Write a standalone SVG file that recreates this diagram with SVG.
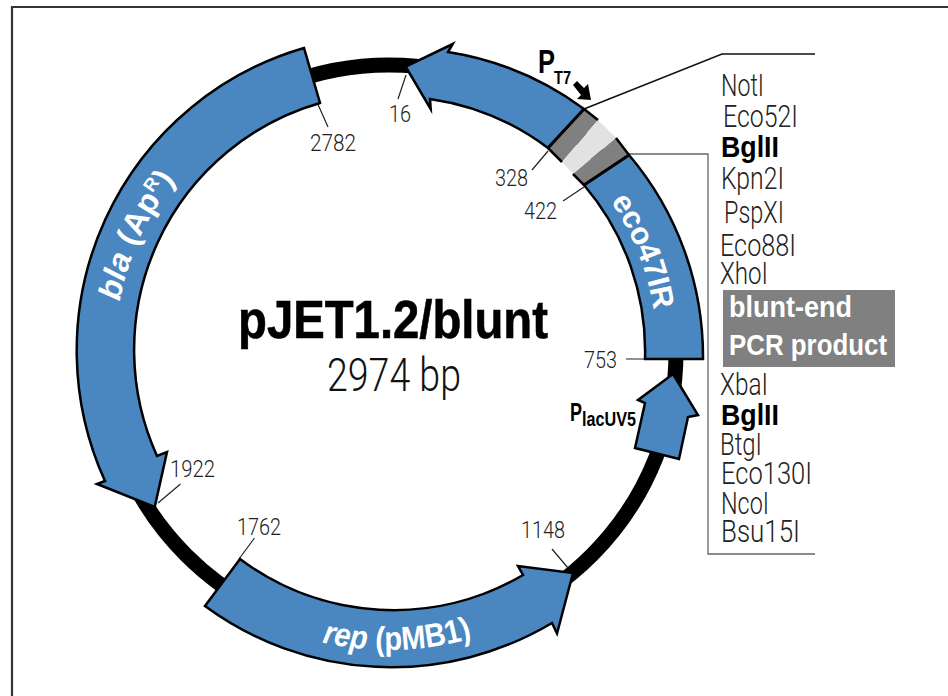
<svg xmlns="http://www.w3.org/2000/svg" width="948" height="696" viewBox="0 0 948 696">
<style>
.n{font-family:Roboto,"Liberation Sans",sans-serif;font-weight:300;fill:#222}
.num{font-size:24px}
.enz{font-size:31px}
.b{font-family:"Liberation Sans",Arial,sans-serif;font-weight:700;fill:#000}
.w{font-family:"Liberation Sans",Arial,sans-serif;font-weight:700;fill:#fff}
.g{fill:#4a86bf;stroke:#000;stroke-width:2.5;stroke-linejoin:miter;stroke-miterlimit:10}
.tick{fill:none;stroke:#222;stroke-width:1.2}
</style>
<defs>
<path id="pBla" d="M115,352 A274 274 0 0 1 389,78"/>
<path id="pEco" d="M389,84 A268 268 0 0 1 657,352"/>
<path id="pRep" d="M91,352 A298 298 0 0 0 687,352"/>
</defs>
<rect width="948" height="696" fill="#fff"/>
<path d="M12,696 V7 H948" fill="none" stroke="#333" stroke-width="2.2"/>
<g id="connectors">
<circle cx="389" cy="352" r="287" fill="none" stroke="#000" stroke-width="15"/>
<path d="M584,109 L722,54 H815" fill="none" stroke="#111" stroke-width="1.6"/>
<path d="M629,154 H708 V554 H815" fill="none" stroke="#666" stroke-width="1.3"/>
<path class="tick" d="M406,75 L398,99 M316,100 L328,127 M548,151 L532,170 M584,187 L563,201 M626,359 H645 M158,503 L180.5,484 M239,559 L254.5,538 M552,549 L568,568"/>
</g>
<g id="bla"><path class="g" d="M304,48 A315 315 0 0 0 105,481 L97,484 L154.7,507 L167,452 L157,456 A257 257 0 0 1 320,103 Z"/>
<text class="w" font-size="32" textLength="135" lengthAdjust="spacingAndGlyphs"><textPath href="#pBla" startOffset="27.5%" text-anchor="middle"><tspan font-style="italic">bla</tspan> (Ap<tspan font-size="18" dy="-11">R</tspan><tspan dy="11">)</tspan></textPath></text></g>
<g id="rep"><path class="g" d="M205,606 A314 314 0 0 0 552,623 L557,633.5 L573,573 L518,566 L523,575 A256 256 0 0 1 240,559 Z"/>
<text class="w" font-size="33" textLength="152" lengthAdjust="spacingAndGlyphs"><textPath href="#pRep" startOffset="50.9%" text-anchor="middle"><tspan font-style="italic">rep</tspan> (pMB1)</textPath></text></g>
<g id="eco47IR"><path class="g" d="M629,155 A312 312 0 0 1 703,359 L645,359 A256 256 0 0 0 584,185 Z"/>
<text class="w" font-size="31" textLength="118" lengthAdjust="spacingAndGlyphs"><textPath href="#pEco" startOffset="76%" text-anchor="middle">eco47IR</textPath></text></g>
<g id="T7"><path class="g" d="M405.7,66.7 L452.7,44 L448,52 A310 310 0 0 1 584,109 L548,148 A258 258 0 0 0 430,99 L430.7,109 Z"/>
<text class="b" x="538" y="73" font-size="33" textLength="17" lengthAdjust="spacingAndGlyphs">P</text>
<text class="b" x="554" y="84" font-size="19" textLength="17" lengthAdjust="spacingAndGlyphs">T7</text>
<path d="M573,85 L577,81 L584,88 L588,84 L591,100 L577,99 L581,95 Z" fill="#000"/></g>
<g id="mcs">
<path d="M584,109 A310 310 0 0 1 598,120 L562,162 L548,148 Z" fill="#808080"/>
<path d="M598,120 L616,138 L573,174 L562,162 Z" fill="#e2e2e2"/>
<path d="M616,138 L629,155 L584,185 L573,174 Z" fill="#808080"/>
<path d="M584,109 L598,120 M616,138 L629,155 M548,148 L562,162 M573,174 L584,185" fill="none" stroke="#000" stroke-width="2.5"/>
<path d="M584,109 L548,148 M629,155 L584,185" fill="none" stroke="#000" stroke-width="3"/>
</g>
<g id="PlacUV5"><path class="g" d="M673,374 L698,415 L688,417 L679,459 L635,448 L645,403 L638,400 Z"/>
<text class="b" x="570" y="421" font-size="25" textLength="12" lengthAdjust="spacingAndGlyphs">P</text>
<text class="b" x="582" y="426" font-size="20" textLength="54" lengthAdjust="spacingAndGlyphs">lacUV5</text></g>
<g id="numbers">
<text class="n num" x="389" y="122" textLength="22" lengthAdjust="spacingAndGlyphs">16</text>
<text class="n num" x="310" y="151" textLength="46" lengthAdjust="spacingAndGlyphs">2782</text>
<text class="n num" x="495" y="186" textLength="33" lengthAdjust="spacingAndGlyphs">328</text>
<text class="n num" x="524" y="219" textLength="33" lengthAdjust="spacingAndGlyphs">422</text>
<text class="n num" x="584" y="368" textLength="33" lengthAdjust="spacingAndGlyphs">753</text>
<text class="n num" x="170" y="477" textLength="45" lengthAdjust="spacingAndGlyphs">1922</text>
<text class="n num" x="237" y="535" textLength="44" lengthAdjust="spacingAndGlyphs">1762</text>
<text class="n num" x="521" y="538" textLength="44" lengthAdjust="spacingAndGlyphs">1148</text>
</g>
<g id="title">
<text class="b" x="238" y="338" font-size="54" textLength="310" lengthAdjust="spacingAndGlyphs" stroke="#000" stroke-width=".6">pJET1.2/blunt</text>
<text class="n" x="327" y="391" font-size="46" textLength="134" lengthAdjust="spacingAndGlyphs" style="fill:#111">2974 bp</text>
</g>
<g id="sites">
<text class="n enz" x="721" y="96" textLength="43" lengthAdjust="spacingAndGlyphs">NotI</text>
<text class="n enz" x="723" y="127" textLength="75" lengthAdjust="spacingAndGlyphs">Eco52I</text>
<text class="b" x="721" y="157" font-size="29" textLength="58" lengthAdjust="spacingAndGlyphs">BglII</text>
<text class="n enz" x="721" y="189" textLength="63" lengthAdjust="spacingAndGlyphs">Kpn2I</text>
<text class="n enz" x="724" y="223" textLength="60" lengthAdjust="spacingAndGlyphs">PspXI</text>
<text class="n enz" x="720" y="256" textLength="76" lengthAdjust="spacingAndGlyphs">Eco88I</text>
<text class="n enz" x="720" y="284" textLength="48" lengthAdjust="spacingAndGlyphs">XhoI</text>
<text class="n enz" x="720" y="395" textLength="48" lengthAdjust="spacingAndGlyphs">XbaI</text>
<text class="b" x="721" y="425" font-size="29" textLength="58" lengthAdjust="spacingAndGlyphs">BglII</text>
<text class="n enz" x="720" y="455" textLength="42" lengthAdjust="spacingAndGlyphs">BtgI</text>
<text class="n enz" x="721" y="484" textLength="91" lengthAdjust="spacingAndGlyphs">Eco130I</text>
<text class="n enz" x="721" y="514" textLength="48" lengthAdjust="spacingAndGlyphs">NcoI</text>
<text class="n enz" x="721" y="542" textLength="79" lengthAdjust="spacingAndGlyphs">Bsu15I</text>
</g>
<g id="insert">
<rect x="723" y="290" width="172" height="77" fill="#808080"/>
<text class="w" x="729" y="317" font-size="30" textLength="123" lengthAdjust="spacingAndGlyphs">blunt-end</text>
<text class="w" x="729" y="355" font-size="30" textLength="158" lengthAdjust="spacingAndGlyphs">PCR product</text>
</g>
</svg>
